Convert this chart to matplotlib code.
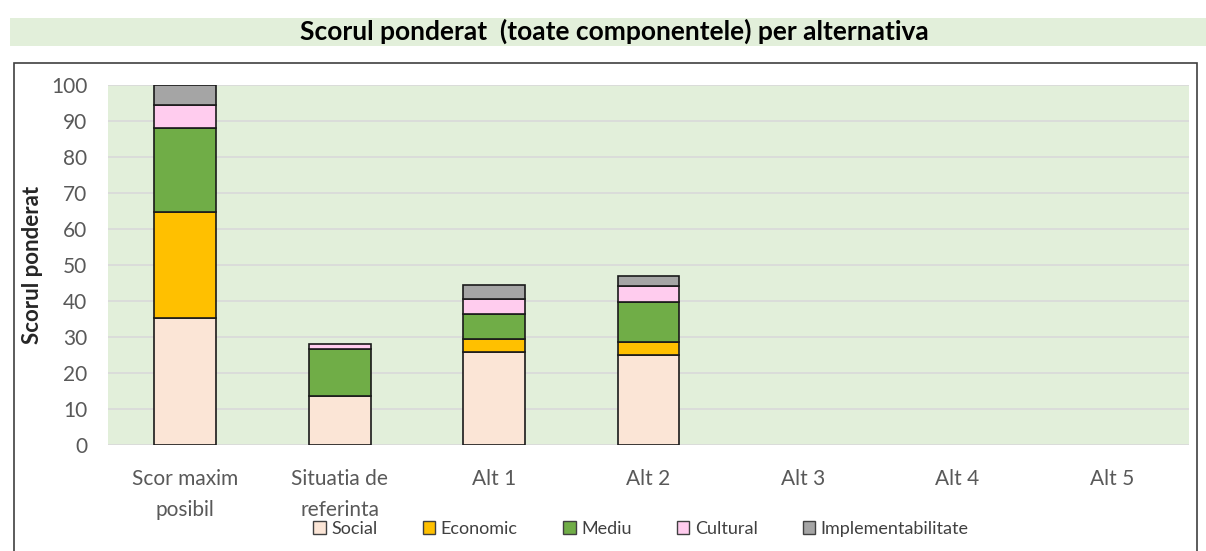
import matplotlib
matplotlib.use('Agg')
import matplotlib.pyplot as plt
import matplotlib.patches as patches
import numpy as np

plt.rcParams['font.family'] = ['Lato', 'DejaVu Sans']

categories = ['Scor maxim\nposibil', 'Situatia de\nreferinta', 'Alt 1', 'Alt 2', 'Alt 3', 'Alt 4', 'Alt 5']
social = [35.3, 13.6, 25.9, 25.0, 0, 0, 0]
economic = [29.4, 0.0, 3.6, 3.6, 0, 0, 0]
mediu = [23.4, 13.0, 7.0, 11.2, 0, 0, 0]
cultural = [6.3, 1.4, 4.1, 4.3, 0, 0, 0]
implementabilitate = [5.6, 0.0, 3.8, 2.9, 0, 0, 0]

series_names = ['Social', 'Economic', 'Mediu', 'Cultural', 'Implementabilitate']
series = [social, economic, mediu, cultural, implementabilitate]
colors = ['#FBE5D6', '#FFC000', '#70AD47', '#FFCCEE', '#A5A5A5']

W, H = 1206, 551
fig = plt.figure(figsize=(W / 100, H / 100), dpi=100)

# title band
fig.patches.append(patches.Rectangle((10 / W, 1 - 46 / H), (W - 10) / W, 28 / H,
                                     transform=fig.transFigure, facecolor='#E2EFDA',
                                     edgecolor='none', zorder=0))
fig.text(614 / W, 1 - 31 / H, 'Scorul ponderat  (toate componentele) per alternativa',
         ha='center', va='center', fontsize=19, fontweight='bold', color='black')

# chart border (bottom edge falls outside the image)
fig.patches.append(patches.Rectangle((13.5 / W, -0.05), (1197 - 13.5) / W, 1 - 63 / H + 0.05,
                                     transform=fig.transFigure, facecolor='none',
                                     edgecolor='#404040', linewidth=1.2, zorder=0))

ax = fig.add_axes([108 / W, 1 - 445 / H, (1189 - 108) / W, (445 - 85) / H])
ax.set_facecolor('#E2EFDA')

x = np.arange(len(categories))
bottom = np.zeros(len(categories))
for name, vals, c in zip(series_names, series, colors):
    vals = np.array(vals)
    mask = vals > 0
    ax.bar(x[mask], vals[mask], width=0.4, bottom=bottom[mask], color=c,
           edgecolor='#1a1a1a', linewidth=1.2, label=name, zorder=3)
    bottom += vals

ax.set_xlim(-0.5, len(categories) - 0.5)
ax.set_ylim(0, 100)
ax.set_yticks(range(0, 101, 10))
ax.set_xticks(x)
ax.set_xticklabels(categories, linespacing=1.7)
ax.yaxis.grid(True, color='#D9D9D9', linewidth=1.2, zorder=0)
ax.set_axisbelow(True)
for s in ax.spines.values():
    s.set_visible(False)
ax.tick_params(axis='both', length=0, labelsize=15, labelcolor='#595959')
ax.tick_params(axis='y', pad=15)
ax.tick_params(axis='x', pad=17)

fig.text(33 / W, 1 - 265 / H, 'Scorul ponderat', rotation=90, ha='center', va='center',
         fontsize=16, fontweight='bold', color='#262626')

handles = [patches.Patch(facecolor=c, edgecolor='#404040', linewidth=1) for c in colors]
fig.legend(handles, series_names, loc='center', bbox_to_anchor=(641 / W, 1 - 529 / H),
           ncol=5, frameon=False, fontsize=13, handlelength=0.7, handleheight=0.7,
           handletextpad=0.3, columnspacing=2.5, labelcolor='#404040')

fig.savefig('out.png', dpi=100, facecolor='white')
